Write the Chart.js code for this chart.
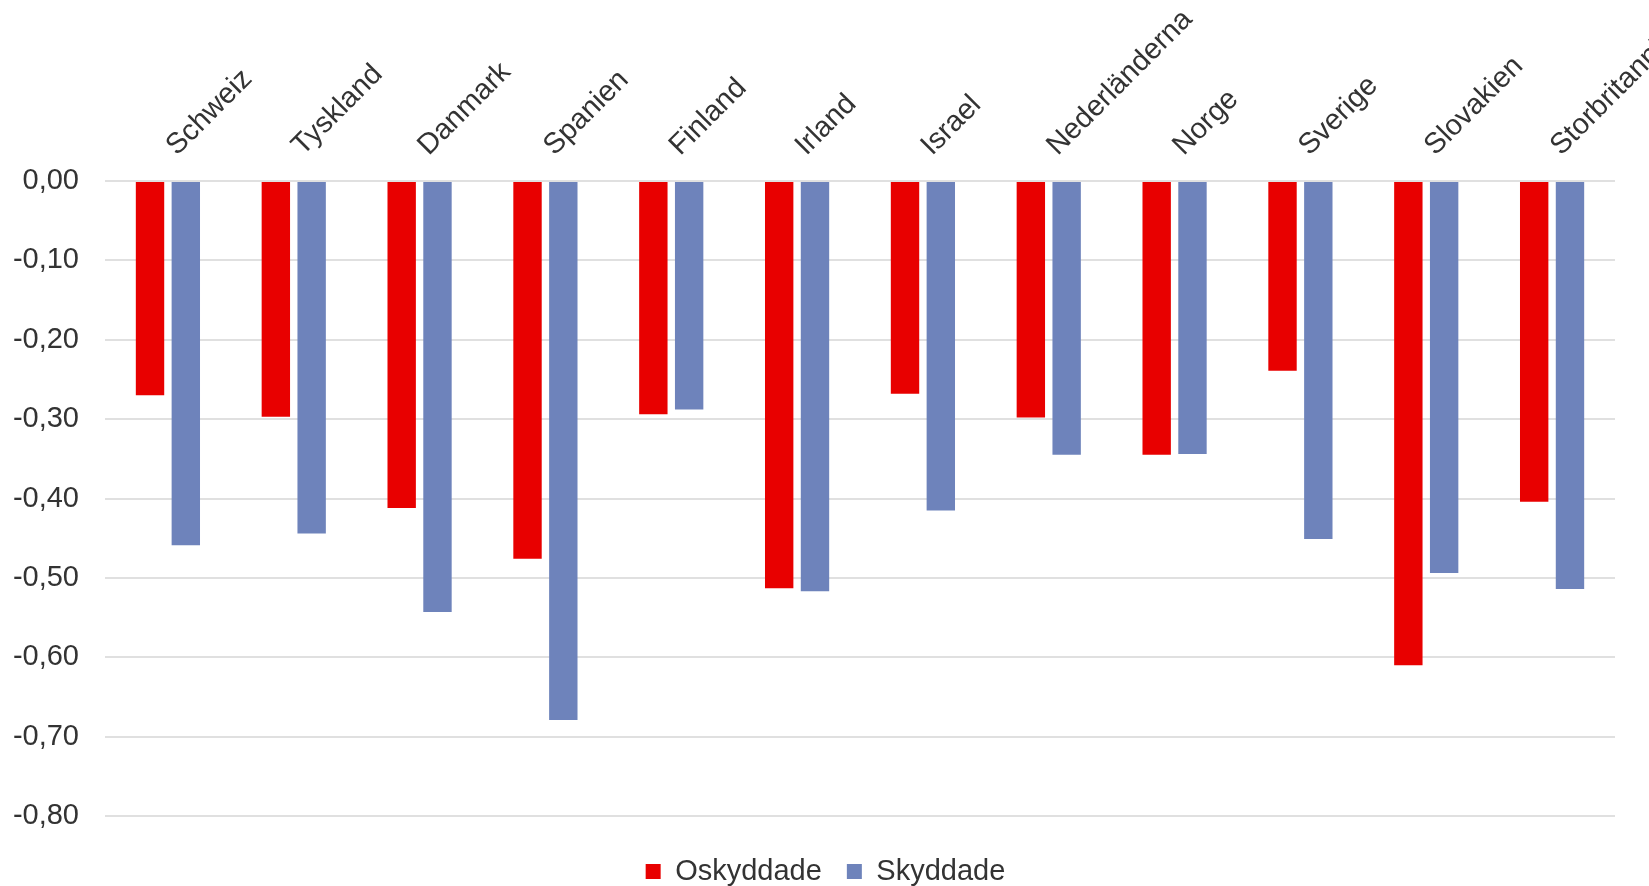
<!DOCTYPE html>
<html lang="sv">
<head>
<meta charset="utf-8">
<title>Oskyddade och skyddade</title>
<script src="https://cdn.jsdelivr.net/npm/chart.js@4/dist/chart.umd.min.js"></script>
<style>
  html, body { margin: 0; padding: 0; background: #ffffff; }
  #wrap { position: relative; width: 1649px; height: 886px; overflow: hidden; }
</style>
</head>
<body>
<div id="wrap"><canvas id="chart"></canvas></div>
<script>
// Länder (kategorier)
const categories = ['Schweiz', 'Tyskland', 'Danmark', 'Spanien', 'Finland', 'Irland',
  'Israel', 'Nederländerna', 'Norge', 'Sverige', 'Slovakien', 'Storbritannien'];

// Serievärden
const oskyddade = [-0.270, -0.297, -0.412, -0.476, -0.294, -0.513,
  -0.268, -0.298, -0.345, -0.239, -0.610, -0.404];
const skyddade = [-0.459, -0.444, -0.543, -0.679, -0.288, -0.517,
  -0.415, -0.345, -0.344, -0.451, -0.494, -0.514];

// Värdeaxelns skalsteg
const yTickValues = [0, -0.1, -0.2, -0.3, -0.4, -0.5, -0.6, -0.7, -0.8];

const seriesNames = ['Oskyddade', 'Skyddade'];

const TEXT = '#333333';
const FONT = { family: '"Liberation Sans", Arial, sans-serif', size: 29 };

// Flyttar teckenförklaringen något nedåt och åt höger
const legendNudge = {
  id: 'legendNudge',
  afterLayout(chart, args, opts) {
    const lg = chart.legend;
    if (!lg) return;
    lg.top += opts.dy;
    lg.bottom += opts.dy;
    lg.left += opts.dx;
    lg.right += opts.dx;
  }
};

new Chart(document.getElementById('chart'), {
  type: 'bar',
  data: {
    labels: categories,
    datasets: [
      { label: seriesNames[0], data: oskyddade, backgroundColor: '#e80000' },
      { label: seriesNames[1], data: skyddade, backgroundColor: '#6e83bb' }
    ]
  },
  plugins: [legendNudge],
  options: {
    responsive: true,
    maintainAspectRatio: false,
    animation: false,
    categoryPercentage: 0.569,
    barPercentage: 0.793,
    layout: { padding: { top: 0, right: 34, bottom: 6, left: 0 } },
    scales: {
      x: {
        position: 'top',
        grid: { display: false, drawTicks: false },
        border: { display: false },
        ticks: {
          autoSkip: false,
          minRotation: 45,
          maxRotation: 45,
          padding: 18,
          labelOffset: 28,
          color: TEXT,
          font: FONT
        },
        afterFit(scale) {
          scale.height = 181;
          scale.paddingRight = 0;
          scale.paddingLeft = 0;
        }
      },
      y: {
        min: -0.8,
        max: 0,
        grid: { color: '#e0e0e0', lineWidth: 2, drawTicks: false },
        border: { display: false },
        afterBuildTicks(scale) {
          scale.ticks = yTickValues.map(v => ({ value: v }));
        },
        ticks: {
          padding: 26,
          color: TEXT,
          font: FONT,
          callback: (v) => (Math.abs(v) < 1e-9 ? 0 : v).toFixed(2).replace('.', ',')
        },
        afterFit(scale) {
          scale.width = 105;
        }
      }
    },
    plugins: {
      legend: {
        position: 'bottom',
        labels: {
          boxWidth: 15,
          boxHeight: 15,
          padding: 25,
          color: TEXT,
          font: FONT
        }
      },
      legendNudge: { dx: 18, dy: 16 },
      tooltip: { enabled: false }
    }
  }
});
</script>
</body>
</html>
